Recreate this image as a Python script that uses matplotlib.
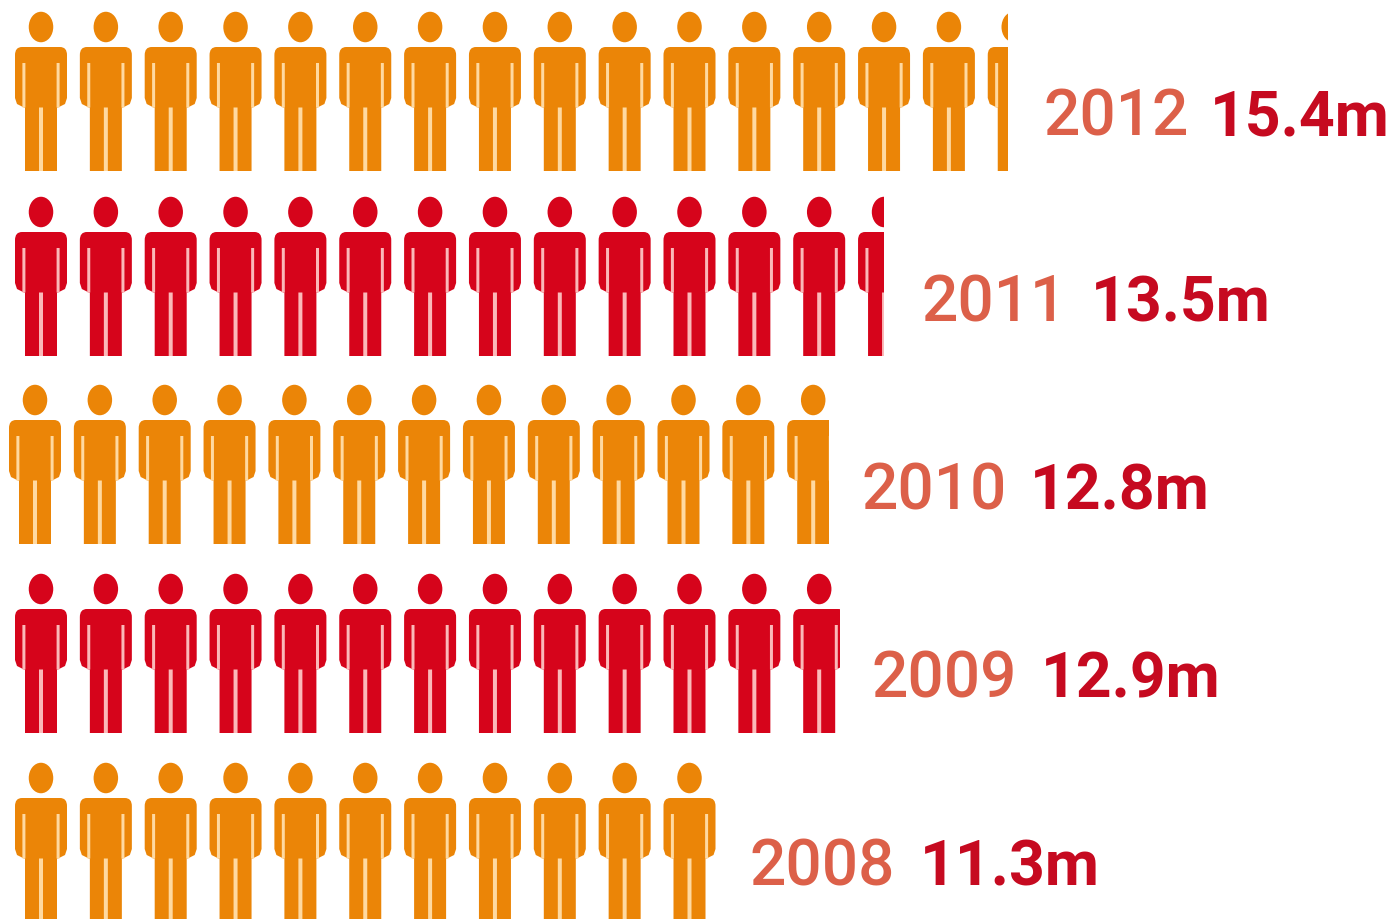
import math
import matplotlib
matplotlib.use("Agg")
import matplotlib.pyplot as plt
from matplotlib.patches import Ellipse, PathPatch, Rectangle
from matplotlib.path import Path

years = ["2012", "2011", "2010", "2009", "2008"]
millions = [15.4, 13.5, 12.8, 12.9, 11.3]
value_labels = ["15.4m", "13.5m", "12.8m", "12.9m", "11.3m"]

ORANGE, RED = "#EB8507", "#D6041B"
ORANGE_GAP, RED_GAP = "#FFD9A0", "#FBB9B9"
YEAR_COLOR, VALUE_COLOR = "#DC6049", "#C60A20"

row_colors = [ORANGE, RED, ORANGE, RED, ORANGE]
row_gaps = [ORANGE_GAP, RED_GAP, ORANGE_GAP, RED_GAP, ORANGE_GAP]
row_tops = [12, 197, 385, 574, 763]
first_centers = [41, 41, 35, 41, 41]
year_x = [1043, 922, 861, 871, 749]
value_x = [1210, 1091, 1030, 1041, 920]
baselines = [135, 321, 509, 697, 886]

PITCH = 64.85
HALF_WIDTH = 26.5
# A remainder smaller than this share of a person is not drawn.
MIN_PARTIAL = 1 / 3

plt.rcParams["font.family"] = ["Roboto", "DejaVu Sans"]

fig = plt.figure(figsize=(13.97, 9.19), dpi=100, facecolor="white")
ax = fig.add_axes([0, 0, 1, 1])
ax.set_xlim(0, 1397)
ax.set_ylim(919, 0)
ax.axis("off")


def body_path(cx, top):
    """Silhouette of shoulders, arms and legs, relative to the head's top."""
    M, L, C = Path.MOVETO, Path.LINETO, Path.CURVE3
    pts = [
        (-19, 35), (19, 35), (26, 35), (26, 43), (26, 86),
        (24, 92), (17, 95.5), (16, 95.5), (16, 159), (-16, 159), (-16, 95.5), (-17, 95.5),
        (-24, 92), (-26, 86), (-26, 43), (-26, 35), (-19, 35),
    ]
    codes = [M, L, C, C, L, L, L, L, L, L, L, L, L, L, L, C, C]
    return Path([(cx + x, top + y) for x, y in pts], codes)


def draw_person(cx, top, color, gap, fraction=1.0):
    left = cx - HALF_WIDTH
    clip = Rectangle((left - 1, top - 2), 2 * HALF_WIDTH * fraction + 1, 170,
                     transform=ax.transData)
    marks = [
        Ellipse((cx, top + 15), 24.5, 30.5, facecolor=color, edgecolor="none"),
        PathPatch(body_path(cx, top), facecolor=color, edgecolor="none"),
        Rectangle((cx - 18.6, top + 51), 3, 44.5, facecolor=gap, edgecolor="none"),
        Rectangle((cx + 15.6, top + 51), 3, 44.5, facecolor=gap, edgecolor="none"),
        Rectangle((cx - 2, top + 95.5), 4, 63.5, facecolor=gap, edgecolor="none"),
    ]
    for mark in marks:
        mark.set_snap(False)
        ax.add_patch(mark)
        mark.set_clip_path(clip)


for i, value in enumerate(millions):
    whole = math.floor(value)
    remainder = value - whole
    for n in range(whole):
        draw_person(first_centers[i] + n * PITCH, row_tops[i],
                    row_colors[i], row_gaps[i])
    if remainder >= MIN_PARTIAL:
        draw_person(first_centers[i] + whole * PITCH, row_tops[i],
                    row_colors[i], row_gaps[i], fraction=remainder)

    ax.text(year_x[i], baselines[i], years[i], color=YEAR_COLOR, fontsize=46,
            fontweight="medium", ha="left", va="baseline")
    ax.text(value_x[i], baselines[i], value_labels[i], color=VALUE_COLOR, fontsize=45,
            fontweight="bold", ha="left", va="baseline")

fig.savefig("out.png", dpi=100, facecolor="white")
